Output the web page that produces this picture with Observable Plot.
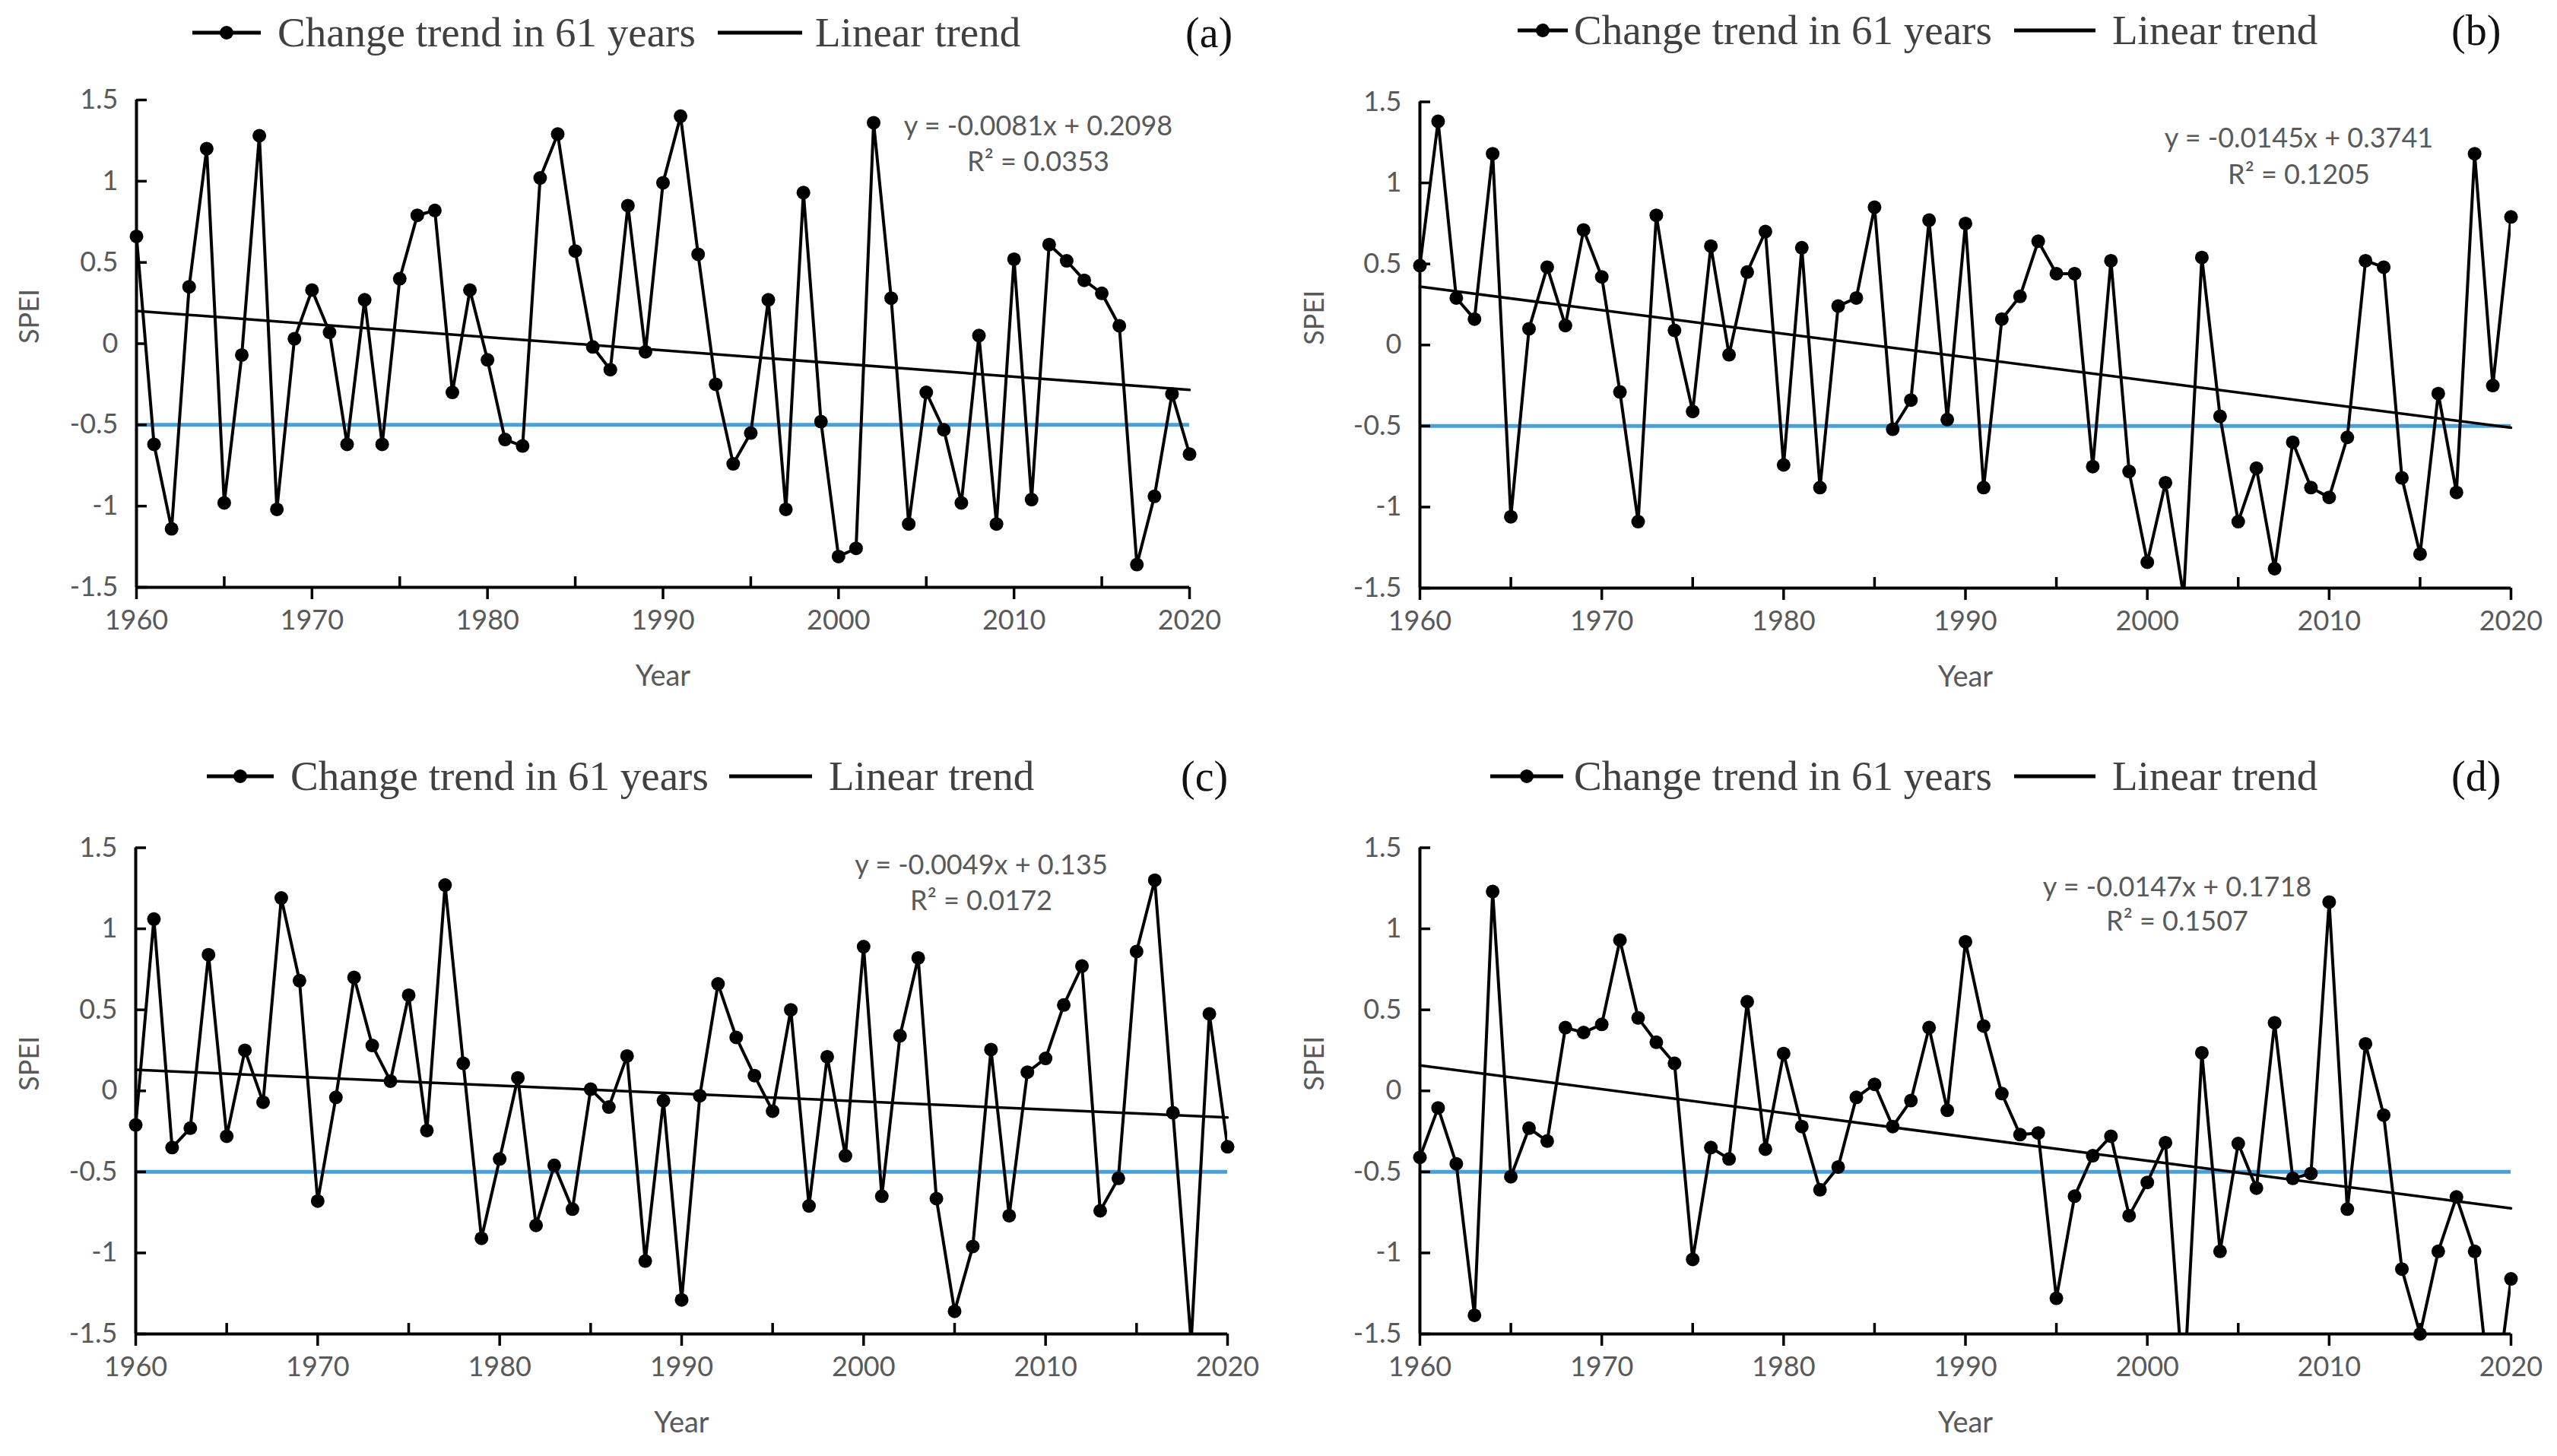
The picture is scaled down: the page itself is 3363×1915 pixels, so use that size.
<!DOCTYPE html>
<html>
<head>
<meta charset="utf-8">
<script src="https://cdn.jsdelivr.net/npm/d3@7"></script>
<script src="https://cdn.jsdelivr.net/npm/@observablehq/plot@0.6"></script>
<style>
  body { margin: 0; background: #fff; }
  #root { position: relative; width: 3363px; height: 1915px; overflow: hidden; background: #fff; }
  .panel { position: absolute; }
  .lg { position: absolute; font-family: "Liberation Serif", "Times New Roman", serif; font-size: 55px; line-height: 1; color: #404040; white-space: nowrap; }
  .lab { position: absolute; font-family: "Liberation Serif", "Times New Roman", serif; font-size: 56px; line-height: 1; color: #111; white-space: nowrap; }
  .sym { position: absolute; }
</style>
</head>
<body>
<div id="root"></div>
<script>
// ---------------- data ----------------
const years = d3.range(1960, 2021);
const speiA = [0.66, -0.62, -1.14, 0.35, 1.20, -0.98, -0.07, 1.28, -1.02, 0.03,
               0.33, 0.07, -0.62, 0.27, -0.62, 0.40, 0.79, 0.82, -0.30, 0.33,
               -0.10, -0.59, -0.63, 1.02, 1.29, 0.57, -0.02, -0.16, 0.85, -0.05,
               0.99, 1.40, 0.55, -0.25, -0.74, -0.55, 0.27, -1.02, 0.93, -0.48,
               -1.31, -1.26, 1.36, 0.28, -1.11, -0.30, -0.53, -0.98, 0.05, -1.11,
               0.52, -0.96, 0.61, 0.51, 0.39, 0.31, 0.11, -1.36, -0.94, -0.31,
               -0.68];
const speiB = [0.49, 1.38, 0.29, 0.16, 1.18, -1.06, 0.10, 0.48, 0.12, 0.71,
               0.42, -0.29, -1.09, 0.80, 0.09, -0.41, 0.61, -0.06, 0.45, 0.70,
               -0.74, 0.60, -0.88, 0.24, 0.29, 0.85, -0.52, -0.34, 0.77, -0.46,
               0.75, -0.88, 0.16, 0.30, 0.64, 0.44, 0.44, -0.75, 0.52, -0.78,
               -1.34, -0.85, -1.55, 0.54, -0.44, -1.09, -0.76, -1.38, -0.60, -0.88,
               -0.94, -0.57, 0.52, 0.48, -0.82, -1.29, -0.30, -0.91, 1.18, -0.25,
               0.79];
const speiC = [-0.21, 1.06, -0.35, -0.23, 0.84, -0.28, 0.25, -0.07, 1.19, 0.68,
               -0.68, -0.04, 0.70, 0.28, 0.06, 0.59, -0.245, 1.27, 0.17, -0.91,
               -0.42, 0.08, -0.83, -0.46, -0.73, 0.01, -0.10, 0.215, -1.05, -0.06,
               -1.29, -0.03, 0.66, 0.33, 0.094, -0.125, 0.50, -0.71, 0.21, -0.40,
               0.89, -0.65, 0.34, 0.82, -0.665, -1.36, -0.96, 0.255, -0.77, 0.115,
               0.20, 0.53, 0.77, -0.74, -0.54, 0.86, 1.30, -0.135, -1.55, 0.475,
               -0.345];
const speiD = [-0.41, -0.105, -0.45, -1.385, 1.23, -0.53, -0.23, -0.31, 0.39, 0.36,
               0.41, 0.93, 0.45, 0.30, 0.17, -1.04, -0.35, -0.42, 0.55, -0.36,
               0.23, -0.22, -0.61, -0.47, -0.04, 0.04, -0.22, -0.06, 0.39, -0.12,
               0.92, 0.40, -0.017, -0.27, -0.26, -1.28, -0.65, -0.40, -0.28, -0.77,
               -0.565, -0.32, -1.86, 0.235, -0.99, -0.325, -0.60, 0.42, -0.54, -0.51,
               1.165, -0.73, 0.29, -0.15, -1.10, -1.50, -0.99, -0.655, -0.99, -2.03,
               -1.16];
const trendSlope = [-0.0081, -0.0145, -0.0049, -0.0147];
const trendIntercept = [0.2098, 0.3741, 0.135, 0.1718];
const r2Values = ["0.0353", "0.1205", "0.0172", "0.1507"];
const panelLetters = ["(a)", "(b)", "(c)", "(d)"];
const threshold = [-0.5];
const xDomain = [1960, 2020];
const yDomain = [-1.5, 1.5];
const yTicks = [-1.5, -1, -0.5, 0, 0.5, 1, 1.5];
const xTicks = [1960, 1970, 1980, 1990, 2000, 2010, 2020];
const xMinorTicks = [1965, 1975, 1985, 1995, 2005, 2015];
const legendLabels = ["Change trend in 61 years", "Linear trend"];
const xLabel = "Year";
const yLabel = "SPEI";

// ---------------- layout ----------------
const series = [speiA, speiB, speiC, speiD];
const layouts = [
  {left: 0,    top: 100,  width: 1680, height: 860, ml: 179, mr: 116, mt: 31,   mb: 188, eqDx: 199, eqDy1: 35,   eqDy2: 82,
   lg: {y: 43, s1: 253, s1w: 90, t1: 365, s2: 944, s2w: 111, t2: 1072, lab: 1559}},
  {left: 1690, top: 100,  width: 1673, height: 860, ml: 177, mr: 61,  mt: 33.5, mb: 187, eqDx: 279, eqDy1: 48.5, eqDy2: 96.5,
   lg: {y: 40, s1: 1996, s1w: 66, t1: 2070, s2: 2649, s2w: 107, t2: 2778, lab: 3224}},
  {left: 0,    top: 1080, width: 1680, height: 835, ml: 178, mr: 66,  mt: 34.5, mb: 161, eqDx: 324, eqDy1: 23.5, eqDy2: 70.5,
   lg: {y: 1021, s1: 272, s1w: 88, t1: 382, s2: 959, s2w: 109, t2: 1090, lab: 1553}},
  {left: 1690, top: 1080, width: 1673, height: 835, ml: 177, mr: 61,  mt: 34.5, mb: 161, eqDx: 439, eqDy1: 52.5, eqDy2: 97.5,
   lg: {y: 1021, s1: 1960, s1w: 96, t1: 2070, s2: 2649, s2w: 107, t2: 2778, lab: 3224}}
];

const root = document.getElementById("root");
const gray = "#595959";
const fmt = d => String(d);

series.forEach((vals, i) => {
  const L = layouts[i];
  const rows = years.map((yr, k) => ({year: yr, v: vals[k]}));
  const first = years[0], last = years[years.length - 1];
  const trend = [first, last].map(yr => ({year: yr, v: trendSlope[i] * (yr - first + 1) + trendIntercept[i]}));
  const eq = `y = ${trendSlope[i]}x + ${trendIntercept[i]}`;
  const r2 = `R² = ${r2Values[i]}`;

  const chart = Plot.plot({
    width: L.width, height: L.height,
    marginLeft: L.ml, marginRight: L.mr, marginTop: L.mt, marginBottom: L.mb,
    x: {domain: xDomain},
    y: {domain: yDomain},
    style: {fontFamily: "Lato, 'Open Sans', sans-serif", background: "white", overflow: "visible"},
    marks: [
      Plot.ruleY(threshold, {stroke: "#47A0DA", strokeWidth: 5}),
      Plot.line(trend, {x: "year", y: "v", stroke: "black", strokeWidth: 3.5}),
      Plot.line(rows, {x: "year", y: "v", stroke: "black", strokeWidth: 4, clip: true}),
      Plot.dot(rows, {x: "year", y: "v", r: 9, fill: "black", filter: d => d.v >= yDomain[0]}),
      // axis lines
      Plot.ruleX([xDomain[0]], {stroke: "black", strokeWidth: 4}),
      Plot.ruleY([yDomain[0]], {stroke: "black", strokeWidth: 4}),
      // y ticks (inside) + labels
      Plot.axisY({ticks: yTicks, tickSize: 14, dx: 14, text: null, label: null, strokeWidth: 3.5, stroke: "black"}),
      Plot.axisY({ticks: yTicks, tickSize: 0, tickPadding: 24, tickFormat: fmt, fontSize: 36, fill: gray, label: null}),
      // x ticks: major outside, minor inside
      Plot.axisX({ticks: xTicks, tickSize: 16, text: null, label: null, strokeWidth: 3.5, stroke: "black"}),
      Plot.axisX({ticks: xMinorTicks, tickSize: 14, dy: -14, text: null, label: null, strokeWidth: 3.5, stroke: "black"}),
      Plot.axisX({ticks: xTicks, tickSize: 0, tickPadding: 30, tickFormat: fmt, fontSize: 36, fill: gray, label: null}),
      // axis titles
      Plot.text([xLabel], {frameAnchor: "bottom", dy: 117, text: d => d, fontSize: 38, fill: gray, lineAnchor: "middle"}),
      Plot.text([yLabel], {frameAnchor: "left", dx: -(L.ml - 39), text: d => d, rotate: -90, fontSize: 36, fill: gray, lineAnchor: "middle"}),
      // regression equation
      Plot.text([eq], {frameAnchor: "top-right", dx: -L.eqDx, dy: L.eqDy1, text: d => d, fontSize: 36, fill: gray, textAnchor: "middle", lineAnchor: "middle"}),
      Plot.text([r2], {frameAnchor: "top-right", dx: -L.eqDx, dy: L.eqDy2, text: d => d, fontSize: 36, fill: gray, textAnchor: "middle", lineAnchor: "middle"})
    ]
  });
  const wrap = document.createElement("div");
  wrap.className = "panel";
  wrap.style.left = L.left + "px";
  wrap.style.top = L.top + "px";
  wrap.appendChild(chart);
  root.appendChild(wrap);

  // legend (HTML, above the chart)
  const g = L.lg;
  const mkSym = (x, w, withDot) => {
    const ns = "http://www.w3.org/2000/svg";
    const s = document.createElementNS(ns, "svg");
    s.setAttribute("class", "sym");
    s.setAttribute("width", w);
    s.setAttribute("height", 24);
    s.style.left = x + "px";
    s.style.top = (g.y - 12) + "px";
    const ln = document.createElementNS(ns, "line");
    ln.setAttribute("x1", 0); ln.setAttribute("x2", w);
    ln.setAttribute("y1", 12); ln.setAttribute("y2", 12);
    ln.setAttribute("stroke", "black"); ln.setAttribute("stroke-width", 5);
    s.appendChild(ln);
    if (withDot) {
      const c = document.createElementNS(ns, "circle");
      c.setAttribute("cx", w / 2); c.setAttribute("cy", 12); c.setAttribute("r", 9);
      c.setAttribute("fill", "black");
      s.appendChild(c);
    }
    root.appendChild(s);
  };
  const mkText = (x, txt, cls) => {
    const d = document.createElement("div");
    d.className = cls;
    d.textContent = txt;
    d.style.left = x + "px";
    d.style.top = (g.y - 28) + "px";
    root.appendChild(d);
  };
  mkSym(g.s1, g.s1w, true);
  mkText(g.t1, legendLabels[0], "lg");
  mkSym(g.s2, g.s2w, false);
  mkText(g.t2, legendLabels[1], "lg");
  mkText(g.lab, panelLetters[i], "lab");
});
</script>
</body>
</html>
